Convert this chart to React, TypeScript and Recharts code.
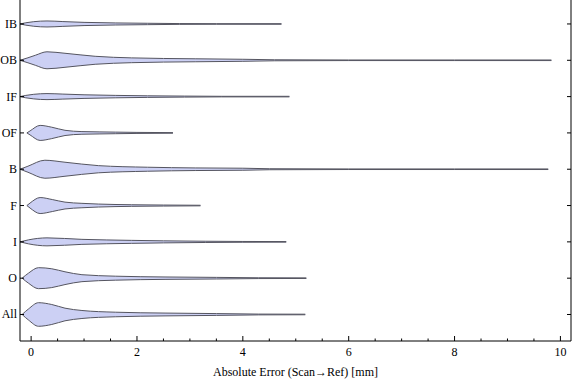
import React from "react";
import { ComposedChart, Area, XAxis, YAxis } from "recharts";

// categories bottom to top (position 1 = bottom)
const CATEGORIES = ["All", "O", "I", "F", "B", "OF", "IF", "OB", "IB"];
const X_TICKS = [0, 0.5, 1, 1.5, 2, 2.5, 3, 3.5, 4, 4.5, 5, 5.5, 6, 6.5, 7, 7.5, 8, 8.5, 9, 9.5, 10];

// violin outlines: error value and half-width (in category spacing units)
const IB_X = [-0.21, -0.1, 0.05, 0.3, 0.6, 1.0, 1.6, 2.2, 2.8, 3.5, 4.73];
const IB_W = [0, 0.033, 0.063, 0.083, 0.066, 0.044, 0.028, 0.019, 0.011, 0.008, 0.008];
const OB_X = [-0.21, -0.06, 0.08, 0.3, 0.64, 1.21, 1.9, 3.1, 4.0, 4.6, 6, 8, 9.83];
const OB_W = [0, 0.069, 0.138, 0.234, 0.193, 0.11, 0.066, 0.041, 0.028, 0.014, 0.008, 0.008, 0.008];
const IF_X = [-0.21, -0.1, 0.05, 0.3, 0.6, 1.0, 1.6, 2.2, 2.9, 3.6, 4.88];
const IF_W = [0, 0.033, 0.063, 0.083, 0.069, 0.05, 0.033, 0.022, 0.014, 0.008, 0.008];
const OF_X = [-0.08, -0.02, 0.17, 0.39, 0.64, 0.96, 1.3, 1.59, 2.0, 2.68];
const OF_W = [0, 0.055, 0.207, 0.157, 0.072, 0.036, 0.028, 0.022, 0.014, 0.008];
const B_X = [-0.21, -0.06, 0.26, 0.64, 1.27, 2.2, 3.1, 4.0, 4.5, 6, 8, 9.77];
const B_W = [0, 0.083, 0.248, 0.193, 0.099, 0.055, 0.036, 0.028, 0.014, 0.008, 0.008, 0.008];
const F_X = [-0.08, -0.02, 0.17, 0.4, 0.64, 0.96, 1.27, 1.9, 2.5, 3.2];
const F_W = [0, 0.069, 0.22, 0.165, 0.094, 0.061, 0.041, 0.022, 0.014, 0.008];
const I_X = [-0.21, -0.05, 0.3, 0.96, 1.9, 2.5, 3.3, 4.0, 4.82];
const I_W = [0, 0.055, 0.11, 0.069, 0.041, 0.028, 0.017, 0.011, 0.008];
const O_X = [-0.17, -0.05, 0.14, 0.39, 0.64, 0.96, 1.59, 2.53, 3.5, 4.3, 5.2];
const O_W = [0, 0.138, 0.289, 0.259, 0.176, 0.096, 0.055, 0.033, 0.022, 0.011, 0.008];
const ALL_X = [-0.17, -0.05, 0.14, 0.39, 0.64, 0.96, 1.59, 2.53, 3.5, 4.3, 5.18];
const ALL_W = [0, 0.152, 0.325, 0.275, 0.174, 0.11, 0.063, 0.039, 0.025, 0.011, 0.008];

const SERIES = [
  { name: "All", xs: ALL_X, ws: ALL_W },
  { name: "O", xs: O_X, ws: O_W },
  { name: "I", xs: I_X, ws: I_W },
  { name: "F", xs: F_X, ws: F_W },
  { name: "B", xs: B_X, ws: B_W },
  { name: "OF", xs: OF_X, ws: OF_W },
  { name: "IF", xs: IF_X, ws: IF_W },
  { name: "OB", xs: OB_X, ws: OB_W },
  { name: "IB", xs: IB_X, ws: IB_W },
];

const X_DOMAIN = [-0.21, 10.2];
const Y_DOMAIN = [0.27, 9.66];
const FONT = "'Liberation Serif', 'Times New Roman', serif";

function violinData(pos: number, xs: number[], ws: number[]) {
  return xs.map((x, i) => ({ x, range: [pos - ws[i], pos + ws[i]] }));
}

const BottomTick = (props: any) => {
  const { x, y, payload } = props;
  const major = payload.value % 2 === 0;
  return (
    <g>
      <line x1={x} x2={x} y1={y} y2={y - (major ? 5 : 2.5)} stroke="#000" />
      {major && (
        <text x={x} y={y + 15} textAnchor="middle" fontFamily={FONT} fontSize={12} fill="#000">
          {payload.value}
        </text>
      )}
    </g>
  );
};

const TopTick = (props: any) => {
  const { x, y, payload } = props;
  const major = payload.value % 2 === 0;
  return <line x1={x} x2={x} y1={y} y2={y + (major ? 5 : 2.5)} stroke="#000" />;
};

const LeftTick = (props: any) => {
  const { x, y, payload } = props;
  return (
    <g>
      <line x1={x} x2={x + 4} y1={y} y2={y} stroke="#000" />
      <text x={x - 3} y={y + 4} textAnchor="end" fontFamily={FONT} fontSize={12} fill="#000">
        {CATEGORIES[payload.value - 1]}
      </text>
    </g>
  );
};

const RightTick = (props: any) => {
  const { x, y } = props;
  return <line x1={x} x2={x - 4} y1={y} y2={y} stroke="#000" />;
};

export default function App() {
  const yTicks = CATEGORIES.map((_, i) => i + 1);
  return (
    <div style={{ position: "absolute", left: 0, top: 0 }}>
      <ComposedChart width={576} height={381} margin={{ top: 0, right: 0, bottom: 0, left: 0 }}>
        <XAxis
          xAxisId="bottom"
          type="number"
          dataKey="x"
          domain={X_DOMAIN}
          allowDataOverflow
          ticks={X_TICKS}
          interval={0}
          height={40}
          tickSize={0}
          tickMargin={0}
          tickLine={false}
          tick={BottomTick}
          axisLine={{ stroke: "#000" }}
          label={{
            value: "Absolute Error (Scan\u2192Ref) [mm]",
            position: "insideBottom",
            offset: 5,
            style: { fontFamily: FONT, fontSize: 12, fill: "#000" },
          }}
        />
        <XAxis
          xAxisId="top"
          orientation="top"
          type="number"
          dataKey="x"
          domain={X_DOMAIN}
          allowDataOverflow
          ticks={X_TICKS}
          interval={0}
          height={0}
          tickSize={0}
          tickMargin={0}
          tickLine={false}
          tick={TopTick}
          axisLine={{ stroke: "#000" }}
        />
        <YAxis
          yAxisId="left"
          type="number"
          domain={Y_DOMAIN}
          allowDataOverflow
          ticks={yTicks}
          interval={0}
          width={20}
          tickSize={0}
          tickMargin={0}
          tickLine={false}
          tick={LeftTick}
          axisLine={{ stroke: "#000" }}
        />
        <YAxis
          yAxisId="right"
          orientation="right"
          type="number"
          domain={Y_DOMAIN}
          allowDataOverflow
          ticks={yTicks}
          interval={0}
          width={5}
          tickSize={0}
          tickMargin={0}
          tickLine={false}
          tick={RightTick}
          axisLine={{ stroke: "#000" }}
        />
        {SERIES.map((s, i) => (
          <Area
            key={s.name}
            xAxisId="bottom"
            yAxisId="left"
            data={violinData(i + 1, s.xs, s.ws)}
            dataKey="range"
            type="monotone"
            fill="#ccd0f4"
            fillOpacity={1}
            stroke="#555560"
            strokeWidth={1}
            dot={false}
            activeDot={false}
            isAnimationActive={false}
          />
        ))}
      </ComposedChart>
    </div>
  );
}
